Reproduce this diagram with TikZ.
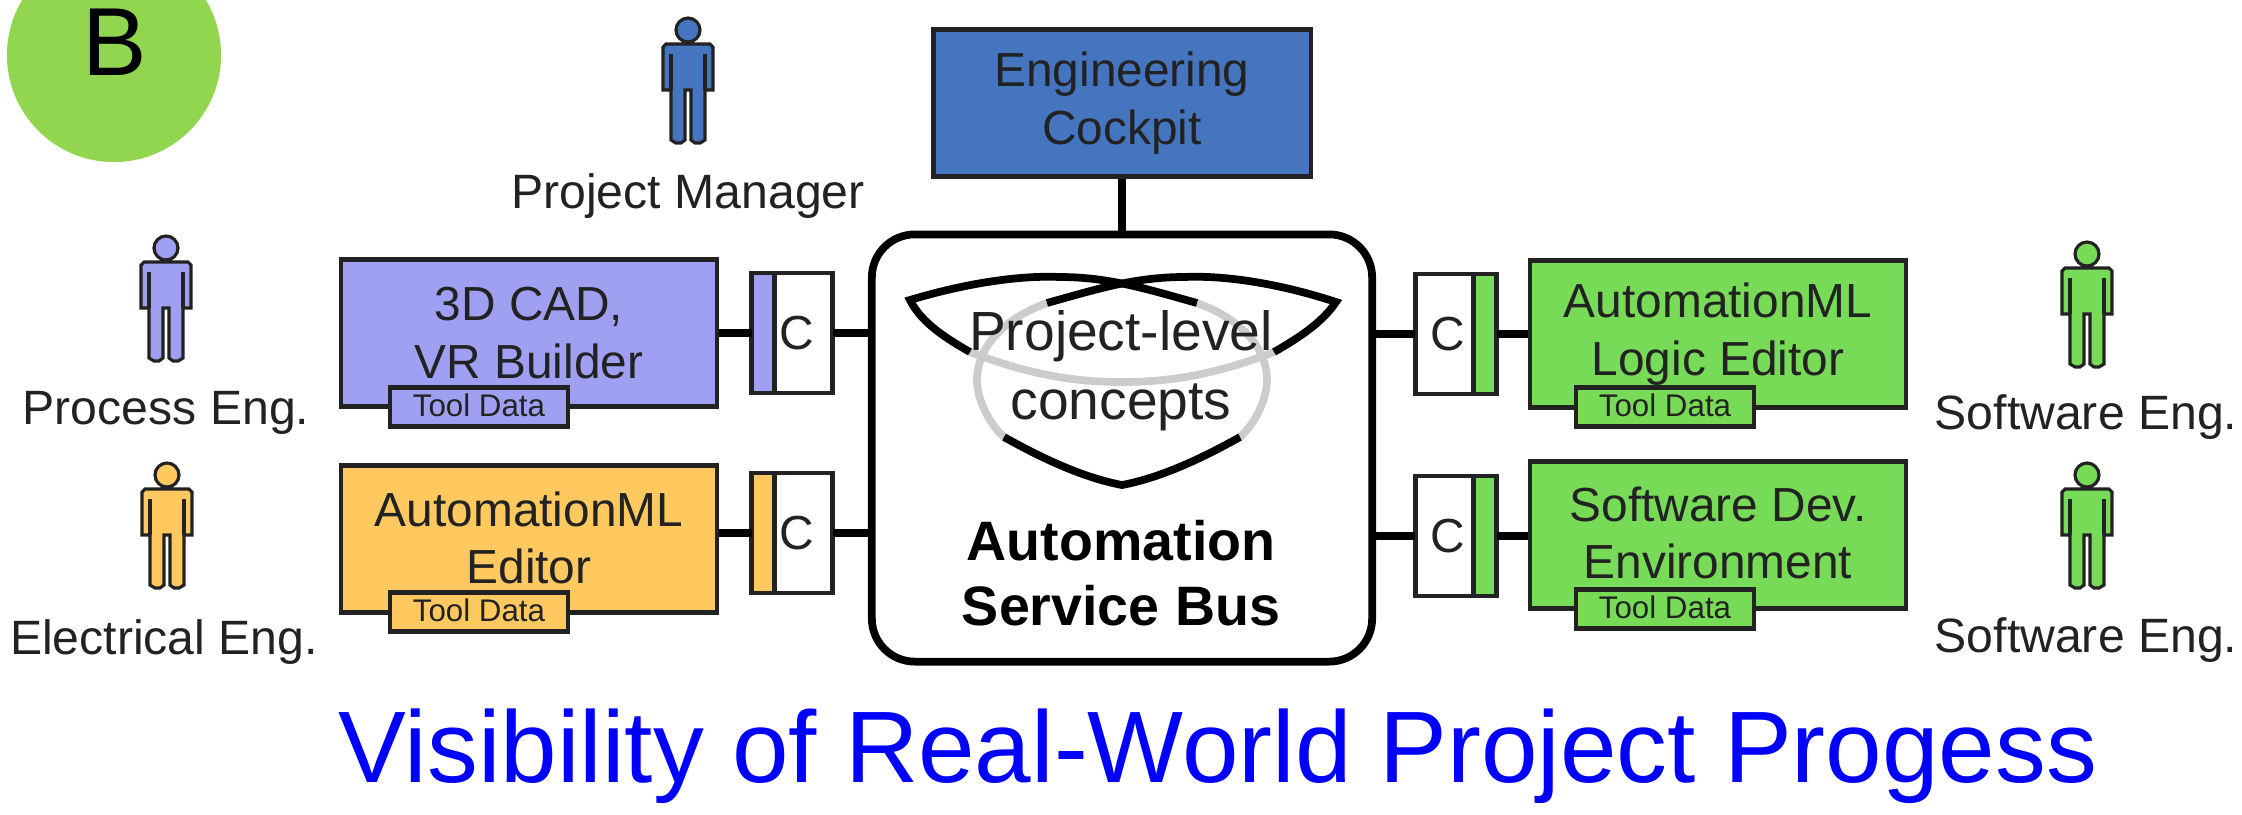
\documentclass[tikz,border=0pt]{standalone}
\usepackage{fontspec}
\setmainfont{Liberation Sans}
\usetikzlibrary{calc}

\definecolor{lilac}{HTML}{A0A0F2}
\definecolor{amber}{HTML}{FFC95F}
\definecolor{leaf}{HTML}{78DB58}
\definecolor{steel}{HTML}{4675BF}
\definecolor{badge}{HTML}{92D650}
\definecolor{ink}{HTML}{222222}

\tikzset{
	toolbox/.style={draw=ink,line width=1.2pt,minimum width=3.76cm,minimum height=1.47cm,inner sep=0pt,align=center,text=ink,font=\fontsize{13.6}{16.3}\selectfont},
	tooldata/.style={draw=ink,line width=1.2pt,minimum width=1.78cm,minimum height=0.39cm,inner sep=0pt,text=ink,font=\fontsize{8.9}{10}\selectfont},
	connbox/.style={draw=ink,fill=white,line width=1.2pt,minimum width=0.58cm,minimum height=1.2cm,inner sep=0pt,outer sep=0pt,text=ink,font=\fontsize{13.6}{16}\selectfont},
	conntab/.style={draw=ink,line width=1.2pt,minimum width=0.23cm,minimum height=1.2cm,inner sep=0pt,outer sep=0pt},
	role/.style={text=ink,inner sep=0pt,font=\fontsize{13.7}{16}\selectfont},
	wire/.style={line width=2.2pt,black},
	person/.pic={
		\draw[line width=0.9pt,draw=ink,fill=\pgfkeysvalueof{/tikz/personfill}]
			(0,0) circle (12)
			(-22,14) -- (22,14) -- (25,17) -- (25,60) -- (17,60) -- (17,110) -- (12,113) -- (7,113) -- (3,110) -- (3,60) -- (-3,60) -- (-3,110) -- (-7,113) -- (-12,113) -- (-17,110) -- (-17,60) -- (-25,60) -- (-25,17) -- cycle;
		\draw[line width=1.4pt,ink] (-17,24) -- (-17,60) (17,24) -- (17,60);
	},
	personfill/.initial=white
}

\begin{document}
\begin{tikzpicture}[x=0.01cm,y=-0.01cm]

	\useasboundingbox (0,0) rectangle (2242,814);
	\clip (0,0) rectangle (2242,814);

	% ---- badge

	\node[circle,fill=badge,minimum size=2.14cm,inner sep=0pt] (badge) at (114,55) {};
	\node[font=\fontsize{27.5}{30}\selectfont,inner sep=0pt] (letter) at (115,42) {B};

	% ---- central bus

	\node[draw,line width=2.2pt,rounded corners=0.43cm,minimum width=5cm,minimum height=4.27cm] (bus) at (1122,448) {};
	\node[draw=ink,fill=steel,line width=1.2pt,minimum width=3.77cm,minimum height=1.47cm,inner sep=0pt,align=center,text=ink,font=\fontsize{13.6}{16.3}\selectfont] (cockpit) at (1122,103) {Engineering\\Cockpit};

	% ---- concept symbol

	\coordinate (LT) at (910,300);
	\coordinate (RT) at (1336,302);
	\coordinate (BT) at (1122,485);
	\coordinate (LB) at (1004,437);
	\coordinate (RB) at (1240,437);
	\coordinate (LG) at (1047,303);
	\coordinate (RG) at (1197,303);
	\coordinate (LS) at (970,352);
	\coordinate (RS) at (1274,352);

	\draw[line width=2.2pt,black!20] (LG) .. controls (1000,320) and (977,350) .. (977,380) .. controls (977,400) and (990,425) .. (LB);
	\draw[line width=2.2pt,black!20] (RG) .. controls (1244,320) and (1267,350) .. (1267,380) .. controls (1267,400) and (1254,425) .. (RB);
	\draw[line width=2.2pt,black!20] (LS) .. controls (1030,375) and (1075,382) .. (1122,382) .. controls (1169,382) and (1214,375) .. (RS);

	\draw[line width=2.2pt,line join=miter] (LS) .. controls (940,335) and (920,320) .. (LT) .. controls (960,285) and (1015,275) .. (1060,277) .. controls (1110,277) and (1150,290) .. (RG);
	\draw[line width=2.2pt,line join=miter] (RS) .. controls (1304,335) and (1324,320) .. (RT) .. controls (1284,285) and (1229,275) .. (1184,277) .. controls (1134,277) and (1094,290) .. (LG);
	\draw[line width=2.2pt,line join=miter] (LB) .. controls (1045,460) and (1085,478) .. (BT) .. controls (1159,478) and (1199,460) .. (RB);

	\node[inner sep=0pt,text=ink,font=\fontsize{15.7}{18}\selectfont] (level) at (1121,336) {Project-level};
	\node[inner sep=0pt,text=ink,font=\fontsize{15.7}{18}\selectfont] (concepts) at (1121,407) {concepts};
	\node[inner sep=0pt,font=\fontsize{15.8}{18}\selectfont\bfseries] (automation) at (1121,541) {Automation};
	\node[inner sep=0pt,font=\fontsize{15.8}{18}\selectfont\bfseries] (servicebus) at (1121,606) {Service Bus};

	% ---- tool boxes

	\node[toolbox,fill=lilac] (Tool1) at (529,333) {3D CAD,\\VR Builder};
	\node[toolbox,fill=amber] (Tool2) at (529,539) {\raisebox{0.8pt}{AutomationML}\\\raisebox{0.8pt}{Editor}};
	\node[toolbox,fill=leaf] (Tool3) at (1718,334) {\raisebox{-0.5pt}{AutomationML}\\\raisebox{-0.5pt}{Logic Editor}};
	\node[toolbox,fill=leaf] (Tool4) at (1718,535) {\raisebox{1.2pt}{Software Dev.}\\\raisebox{1.2pt}{Environment}};

	\node[tooldata,fill=lilac] (Data1) at (479,407) {\raisebox{1pt}{Tool Data}};
	\node[tooldata,fill=amber] (Data2) at (479,612) {\raisebox{1pt}{Tool Data}};
	\node[tooldata,fill=leaf] (Data3) at (1665,407) {\raisebox{1pt}{Tool Data}};
	\node[tooldata,fill=leaf] (Data4) at (1665,609) {\raisebox{1pt}{Tool Data}};

	% ---- adapters

	\node[conntab,fill=lilac] (Tab1) at (763,333) {};
	\node[conntab,fill=amber] (Tab2) at (763,533) {};
	\node[conntab,fill=leaf] (Tab3) at (1485,334) {};
	\node[conntab,fill=leaf] (Tab4) at (1485,536) {};

	\node[connbox,anchor=west] (Conn1) at (Tab1.east) {C\hspace{4pt}\null};
	\node[connbox,anchor=west] (Conn2) at (Tab2.east) {C\hspace{4pt}\null};
	\node[connbox,anchor=east] (Conn3) at (Tab3.west) {\hspace{2pt}C};
	\node[connbox,anchor=east] (Conn4) at (Tab4.west) {\hspace{2pt}C};

	% ---- wires

	\draw[wire] (cockpit) -- (bus);
	\draw[wire] (Tab1.west -| Tool1.east) -- (Tab1.west);
	\draw[wire] (Tab2.west -| Tool2.east) -- (Tab2.west);
	\draw[wire] (Tab3.east) -- (Tab3.east -| Tool3.west);
	\draw[wire] (Tab4.east) -- (Tab4.east -| Tool4.west);
	\draw[wire] (Conn1.east) -- (Conn1.east -| bus.west);
	\draw[wire] (Conn2.east) -- (Conn2.east -| bus.west);
	\draw[wire] (Conn3.west) -- (Conn3.west -| bus.east);
	\draw[wire] (Conn4.west) -- (Conn4.west -| bus.east);

	% ---- people

	\pic[personfill=steel] at (688,30) {person};
	\pic[personfill=lilac] at (166,248) {person};
	\pic[personfill=amber] at (167,475) {person};
	\pic[personfill=leaf] at (2087,254) {person};
	\pic[personfill=leaf] at (2087,475) {person};

	\node[role] (manager) at (688,196) {Project Manager};
	\node[role] (process) at (166,413) {Process Eng.};
	\node[role] (electrical) at (164,642) {Electrical Eng.};
	\node[role] (software1) at (2086,417) {Software Eng.};
	\node[role] (software2) at (2086,640) {Software Eng.};

	% ---- caption

	\node[text=blue,inner sep=0pt,font=\fontsize{28.9}{32}\selectfont] (caption) at (1218,756) {Visibility of Real-World Project Progess};

\end{tikzpicture}
\end{document}
